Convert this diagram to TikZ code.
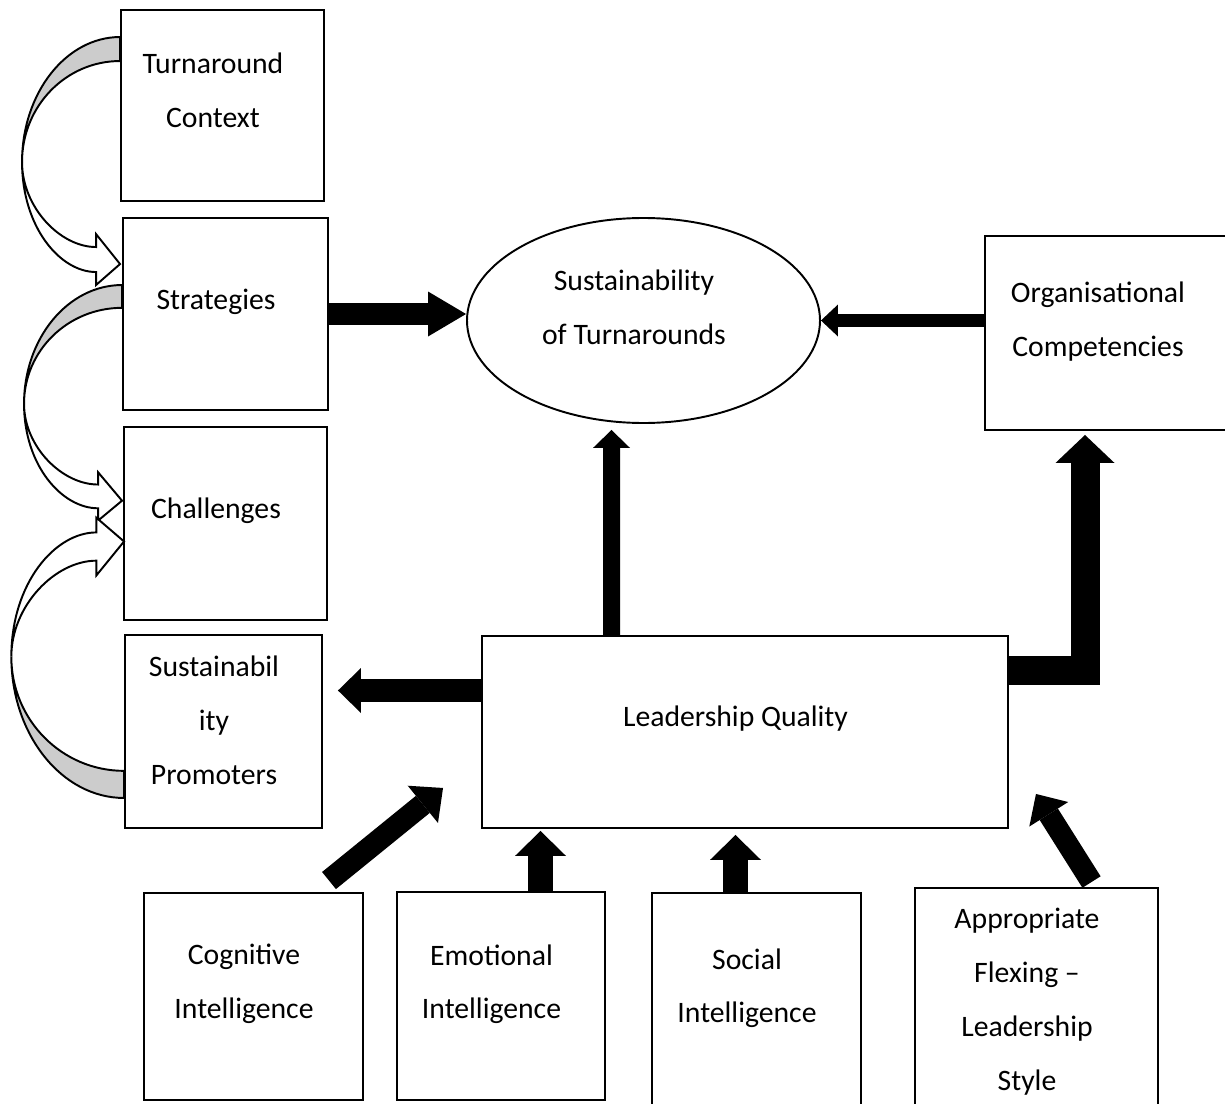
\documentclass[tikz,border=0pt]{standalone}
\usepackage{fontspec}
\setmainfont{Carlito}
\usepackage{tikz}
\usetikzlibrary{shapes,arrows.meta,positioning,calc}

\begin{document}
\begin{tikzpicture}[
    box/.style={rectangle, draw, line width=1.1pt, inner sep=0pt},
    oval/.style={ellipse, draw, line width=1.1pt, inner sep=0pt, minimum width=7.06cm, minimum height=4.1cm},
    txt/.style={inner sep=0pt, align=center, xshift=-0.19cm, font=\fontsize{16.9}{30.7}\selectfont, execute at begin node=\strut},
    blk/.style n args={3}{line width=#1, -{Triangle[width=#2, length=#3, line width=0pt]}},
    bend/.pic={
        \filldraw[line width=1.1pt, fill=gray!40] (0,0) .. controls (-1.08,0) and (-1.96,-1.12) .. (-1.96,-2.5)
            .. controls (-1.96,-1.38) and (-1.08,-0.48) .. (0,-0.48) -- cycle;
        \filldraw[line width=1.1pt, fill=white] (-1.96,-2.5) .. controls (-1.96,-3.4) and (-1.2,-4.2) .. (-0.48,-4.2)
            -- (-0.48,-3.94) -- (0,-4.54) -- (-0.48,-4.96) -- (-0.48,-4.7)
            .. controls (-1.2,-4.7) and (-1.96,-3.8) .. (-1.96,-2.5) -- cycle;
    }
]
\useasboundingbox (0,0) rectangle (24.5,-22.08);

% Left column
\node[box, minimum width=4.06cm, minimum height=3.82cm] (ctx) at (4.45,-2.11) {};
\node[txt, below=0.87cm of ctx.north] (ctx-txt) {Turnaround\\Context};
\node[box, minimum width=4.10cm, minimum height=3.84cm] (strat) at (4.51,-6.28) {};
\node[txt, below=1.08cm of strat.north] (strat-txt) {Strategies};
\node[box, minimum width=4.06cm, minimum height=3.86cm] (chal) at (4.51,-10.47) {};
\node[txt, below=1.08cm of chal.north] (chal-txt) {Challenges};
\node[box, minimum width=3.94cm, minimum height=3.86cm] (promo) at (4.47,-14.63) {};
\node[txt, below=0.43cm of promo.north] (promo-txt) {Sustainabil\\ity\\Promoters};

% Centre
\node[oval] (sust) at (12.87,-6.41) {};
\node[txt, below=1.05cm of sust.north] (sust-txt) {Sustainability\\of Turnarounds};
\node[box, minimum width=4.90cm, minimum height=3.88cm] (org) at (22.15,-6.66) {};
\node[txt, below=0.93cm of org.north] (org-txt) {Organisational\\Competencies};
\node[box, minimum width=10.52cm, minimum height=3.84cm] (lead) at (14.90,-14.64) {};
\node[txt, below=1.06cm of lead.north] (lead-txt) {Leadership Quality};

% Bottom row
\node[box, minimum width=4.38cm, minimum height=4.14cm] (cog) at (5.07,-19.93) {};
\node[txt, below=1.04cm of cog.north] (cog-txt) {Cognitive\\Intelligence};
\node[box, minimum width=4.16cm, minimum height=4.16cm] (emo) at (10.02,-19.92) {};
\node[txt, below=1.06cm of emo.north] (emo-txt) {Emotional\\Intelligence};
\node[box, minimum width=4.18cm, minimum height=4.34cm] (soc) at (15.13,-20.03) {};
\node[txt, below=1.12cm of soc.north] (soc-txt) {Social\\Intelligence};
\node[box, minimum width=4.86cm, minimum height=4.44cm] (flex) at (20.73,-19.98) {};
\node[txt, below=0.41cm of flex.north] (flex-txt) {Appropriate\\Flexing \textendash\\Leadership\\Style};

% Block arrows
\draw[blk={0.44cm}{0.9cm}{0.76cm}] (strat.east) -- (strat.east -| sust.west);
\draw[blk={0.26cm}{0.64cm}{0.34cm}] (sust.east -| org.west) -- (sust.east);
\coordinate (lead-up) at ([xshift=-2.67cm]lead.north);
\coordinate (sust-low) at ([xshift=-0.64cm]sust.south);
\draw[blk={0.34cm}{0.74cm}{0.36cm}, shorten >=0.12cm] (lead-up) -- (sust-low);
\coordinate (lead-right) at ([yshift=-0.7cm]lead.north east);
\coordinate (org-low) at ([xshift=-0.45cm]org.south);
\draw[blk={0.58cm}{1.18cm}{0.56cm}, shorten >=0.08cm] (lead-right) -| (org-low);
\coordinate (lead-left) at ([yshift=0.83cm]lead.west);
\draw[blk={0.46cm}{0.9cm}{0.46cm}, shorten >=0.3cm] (lead-left) -- (lead-left -| promo.east);

% Inputs to leadership
\coordinate (cog-top) at ([xshift=1.51cm, yshift=0.23cm]cog.north);
\coordinate (lead-sw) at ([xshift=-0.76cm, yshift=0.82cm]lead.south west);
\draw[blk={0.44cm}{0.96cm}{0.52cm}] (cog-top) -- (lead-sw);
\coordinate (emo-top) at ([xshift=0.79cm]emo.north);
\draw[blk={0.5cm}{1.02cm}{0.5cm}, shorten >=0.04cm] (emo-top) -- (emo-top |- lead.south);
\coordinate (soc-top) at ([xshift=-0.42cm]soc.north);
\draw[blk={0.5cm}{1.02cm}{0.5cm}, shorten >=0.12cm] (soc-top) -- (soc-top |- lead.south);
\coordinate (flex-top) at ([xshift=1.1cm, yshift=0.1cm]flex.north);
\coordinate (lead-se) at ([xshift=0.54cm, yshift=0.7cm]lead.south east);
\draw[blk={0.43cm}{0.92cm}{0.48cm}] (flex-top) -- (lead-se);

% Curved arrows on the left
\pic at ([yshift=-0.56cm]ctx.north west) {bend};
\pic[yscale=0.95] at ([yshift=-1.36cm]strat.north west) {bend};
\pic[xscale=1.15, yscale=-1.13] at ([yshift=0.62cm]promo.south west) {bend};

\end{tikzpicture}
\end{document}
